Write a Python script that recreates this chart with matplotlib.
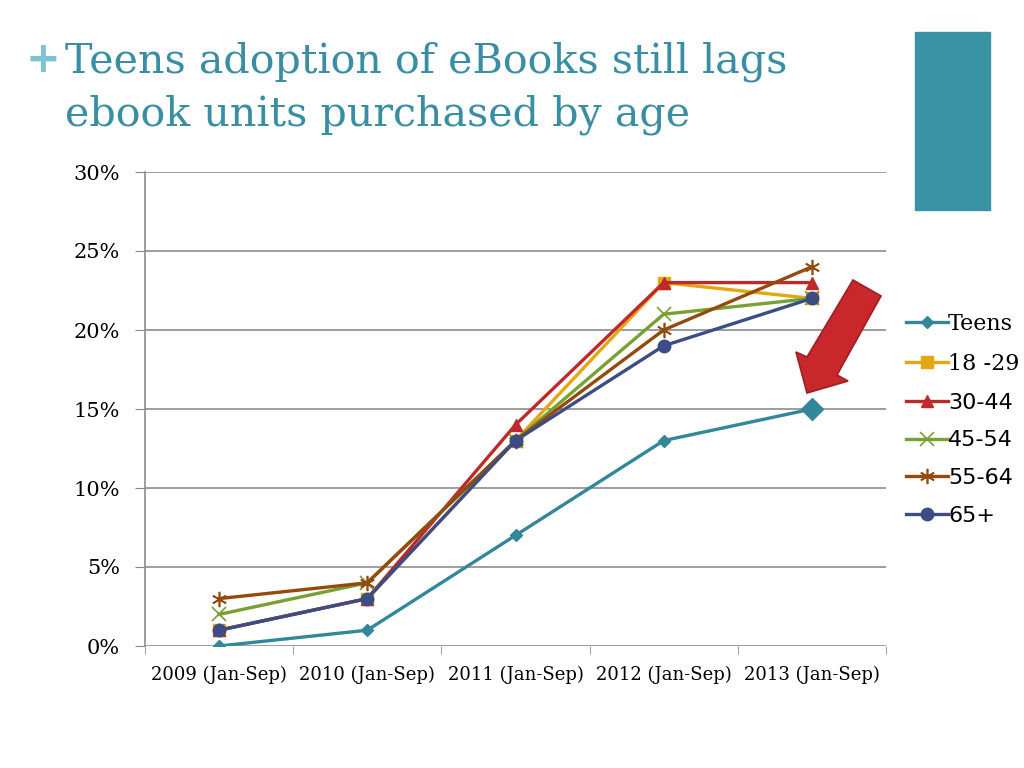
import matplotlib
matplotlib.use("Agg")
import matplotlib.pyplot as plt
from matplotlib.patches import Rectangle, Polygon

categories = ["2009 (Jan-Sep)", "2010 (Jan-Sep)", "2011 (Jan-Sep)", "2012 (Jan-Sep)", "2013 (Jan-Sep)"]
series_names = ["Teens", "18 -29", "30-44", "45-54", "55-64", "65+"]
teens = [0, 1, 7, 13, 15]
age_18_29 = [1, 3, 13, 23, 22]
age_30_44 = [1, 3, 14, 23, 23]
age_45_54 = [2, 4, 13, 21, 22]
age_55_64 = [3, 4, 13, 20, 24]
age_65p = [1, 3, 13, 19, 22]
y_ticks = [0, 5, 10, 15, 20, 25, 30]
y_labels = ["0%", "5%", "10%", "15%", "20%", "25%", "30%"]

values = [teens, age_18_29, age_30_44, age_45_54, age_55_64, age_65p]
colors = ["#33879B", "#E2A712", "#BE2A2C", "#78A034", "#944A0C", "#3C4D85"]
markers = ["D", "s", "^", "x", (6, 2, 0), "o"]
msizes = [6, 8, 9, 10, 11, 9]

W, H = 1024, 768
fig = plt.figure(figsize=(W / 100, H / 100), dpi=100)
ax = fig.add_axes([145 / W, 1 - 646 / H, (886 - 145) / W, (646 - 172) / H])

x = list(range(len(categories)))
handles = []
for i, (name, vals) in enumerate(zip(series_names, values)):
    ln, = ax.plot(x, vals, color=colors[i], lw=2.4, marker=markers[i], ms=msizes[i],
                  mew=1.2 if i in (3, 4) else 1, label=name, zorder=3 + i * 0.1)
    handles.append(ln)
# larger final Teens marker
ax.plot([x[-1]], [teens[-1]], marker="D", ms=11, color=colors[0], ls="none", zorder=4)

ax.set_xlim(-0.5, 4.5)
ax.set_ylim(0, 30)
ax.set_yticks(y_ticks)
ax.set_yticklabels(y_labels, fontfamily="DejaVu Serif", fontsize=15)
ax.set_xticks(x)
ax.set_xticklabels(categories, fontfamily="DejaVu Serif", fontsize=13)
ax.tick_params(axis="x", length=0, pad=14)
ax.set_xticks([k - 0.5 for k in range(6)], minor=True)
ax.tick_params(axis="x", which="minor", length=6, color="#888888")
ax.tick_params(axis="y", length=7, color="#888888", pad=11)
ax.yaxis.grid(True, color="#8c8c8c", lw=1.2)
ax.set_axisbelow(True)
for s in ["top", "right", "bottom"]:
    ax.spines[s].set_visible(False)
ax.spines["left"].set_color("#8c8c8c")
ax.spines["left"].set_linewidth(1.2)

leg = fig.legend(handles=handles, loc="upper left", bbox_to_anchor=(906 / W, 1 - 313 / H), frameon=False,
                 fontsize=16, handlelength=1.9, handletextpad=0.0, labelspacing=0.8,
                 borderaxespad=0, borderpad=0)
for t in leg.get_texts():
    t.set_fontfamily("DejaVu Sans")
leg.get_texts()[0].set_fontfamily("DejaVu Serif")
leg.get_texts()[1].set_fontfamily("DejaVu Serif")

# title
fig.text(26 / W, 1 - 60 / H, "+", color="#7EC3D3", fontsize=30, fontweight="bold", va="center")
fig.text(65 / W, 1 - 62 / H, "Teens adoption of eBooks still lags", color="#3A8EA4",
         fontsize=29.7, fontfamily="DejaVu Serif", va="center")
fig.text(65 / W, 1 - 115 / H, "ebook units purchased by age", color="#3A8EA4",
         fontsize=29.7, fontfamily="DejaVu Serif", va="center")

# teal decorative rectangle
fig.patches.append(Rectangle((915 / W, 1 - 210 / H), 75 / W, 178 / H, transform=fig.transFigure,
                             color="#3A92A5", zorder=1))

# red arrow (annotation)
pts = [(853, 280), (881, 296), (837, 375), (848, 381), (807, 393), (796, 352), (807, 357)]
poly = Polygon([(px / W, 1 - py / H) for px, py in pts], closed=True, transform=fig.transFigure,
               facecolor="#C8282C", edgecolor="#A01E22", lw=1.2, zorder=10)
fig.patches.append(poly)

fig.savefig("out.png", dpi=100)
